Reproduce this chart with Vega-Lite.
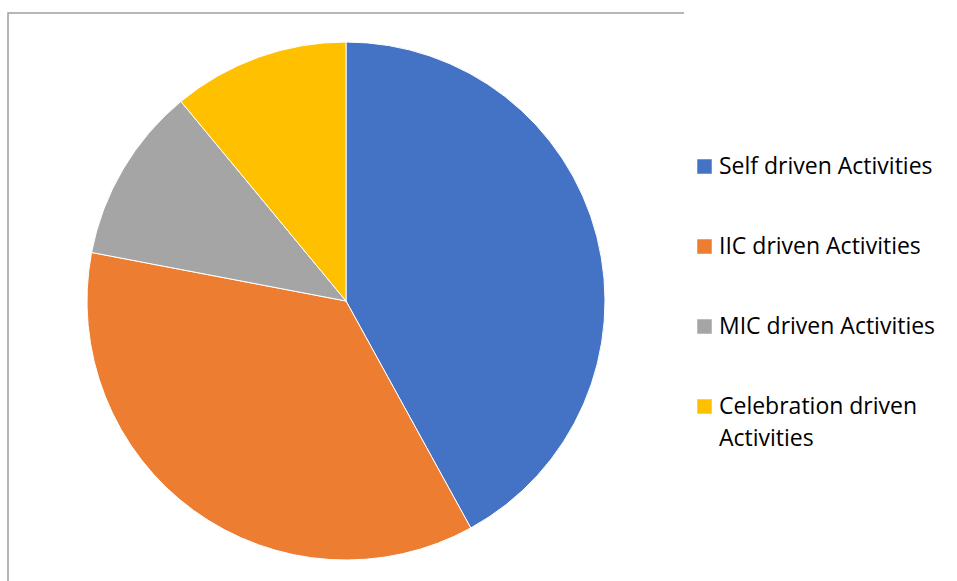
{
  "$schema": "https://vega.github.io/schema/vega-lite/v6.json",
  "width": 676,
  "height": 576,
  "autosize": {"type": "none"},
  "padding": {"left": 8, "top": 13, "right": 273, "bottom": 0},
  "background": "white",
  "view": {"stroke": "#a0a0a0", "strokeWidth": 1.5, "strokeDash": [676, 1252, 576]},
  "config": {
    "font": "Open Sans",
    "style": {"guide-label": {"lineHeight": 32}}
  },
  "data": {
    "values": [
      {"category": "Self driven Activities", "value": 42, "order": 1},
      {"category": "IIC driven Activities", "value": 36, "order": 2},
      {"category": "MIC driven Activities", "value": 11, "order": 3},
      {"category": "Celebration driven Activities", "value": 11, "order": 4}
    ]
  },
  "mark": {"type": "arc", "outerRadius": 259, "stroke": "white", "strokeWidth": 1},
  "encoding": {
    "theta": {"field": "value", "type": "quantitative", "stack": true},
    "order": {"field": "order", "type": "quantitative"},
    "color": {
      "field": "category",
      "type": "nominal",
      "scale": {
        "domain": ["Self driven Activities", "IIC driven Activities", "MIC driven Activities", "Celebration driven Activities"],
        "range": ["#4472C4", "#ED7D31", "#A5A5A5", "#FFC000"]
      },
      "legend": {
        "title": null,
        "orient": "none",
        "legendX": 685,
        "legendY": 142,
        "symbolType": "square",
        "symbolSize": 210,
        "symbolStrokeWidth": 0,
        "labelFontSize": 23,
        "labelColor": "#000000",
        "labelOffset": 3,
        "labelLimit": 300,
        "rowPadding": 56,
        "labelExpr": "datum.label == 'Celebration driven Activities' ? ['Celebration driven', 'Activities'] : datum.label"
      }
    }
  }
}
